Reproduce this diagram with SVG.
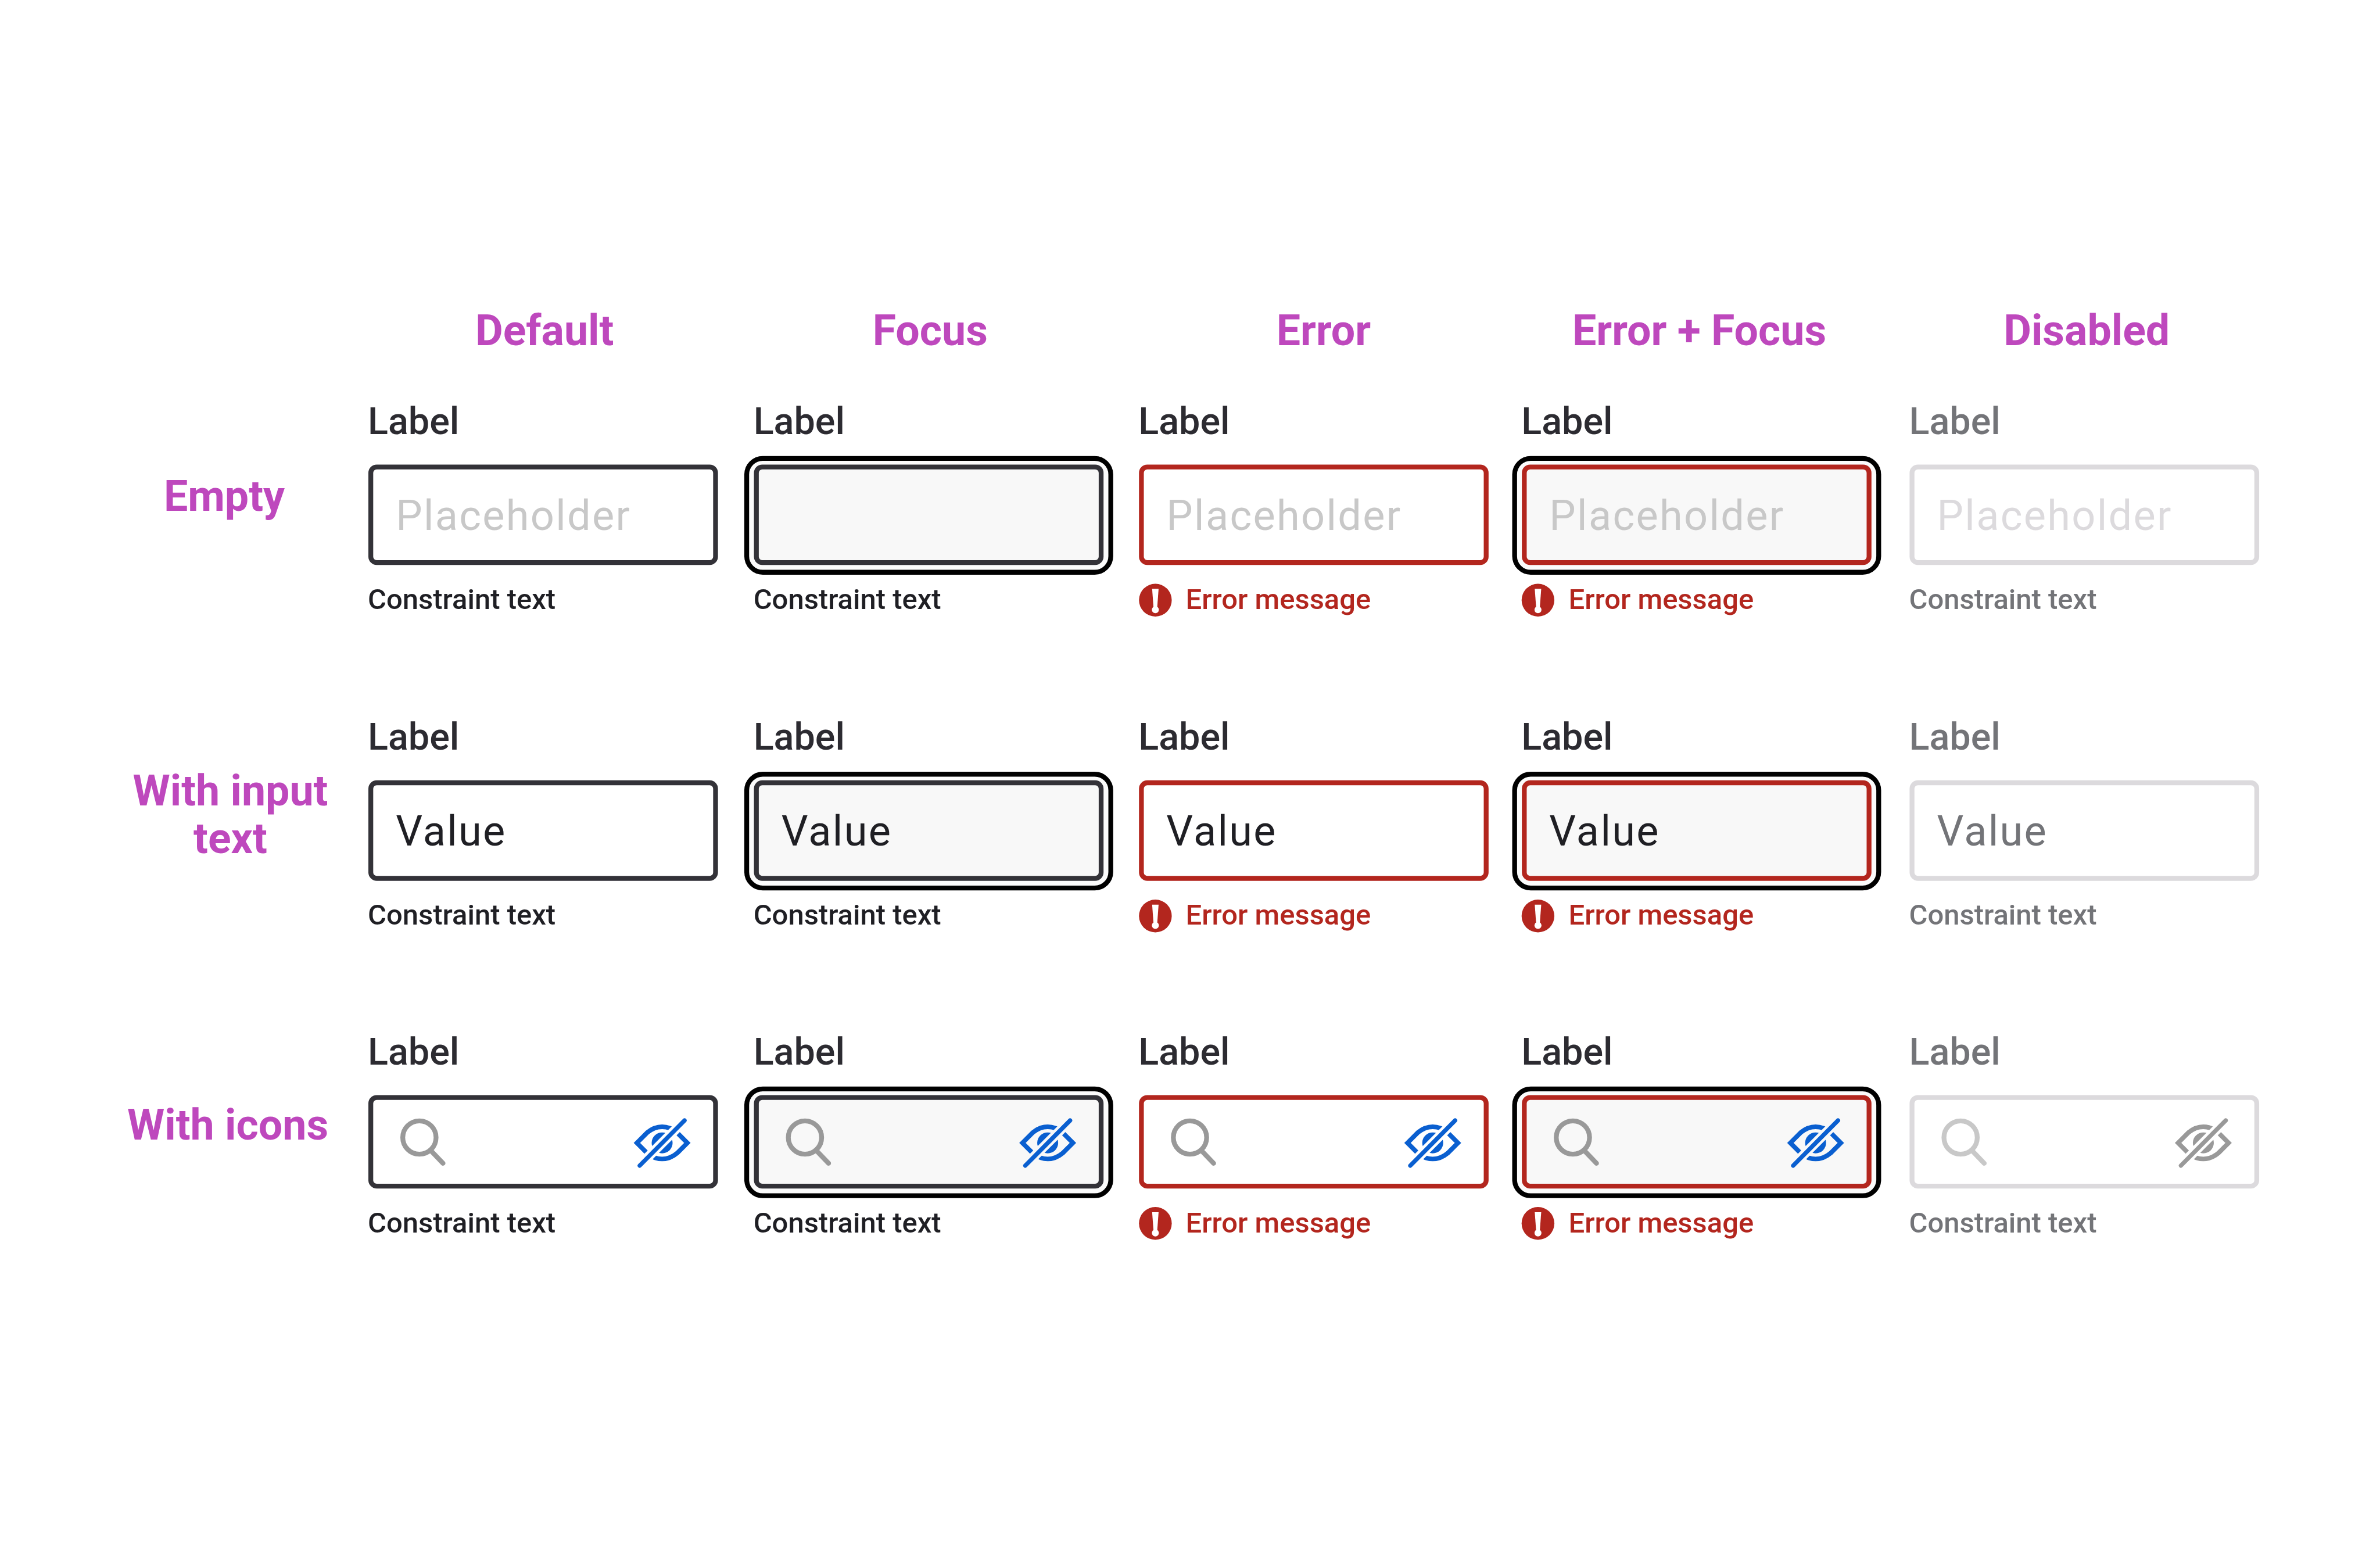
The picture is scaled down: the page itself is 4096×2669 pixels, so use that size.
<svg xmlns="http://www.w3.org/2000/svg" xmlns:xlink="http://www.w3.org/1999/xlink" width="4096" height="2669" viewBox="0 0 4096 2669">
<style>
text{font-family:Roboto,"Liberation Sans",sans-serif}
.h{font-size:79.5px;font-weight:700;fill:#be48bd}
.r{font-size:79.5px;font-weight:700;fill:#be48bd;text-anchor:middle}
.l{font-size:70px;font-weight:500;fill:#2c2b31}
.c{font-size:53px;font-weight:500;fill:#1f1f24}
.e{font-size:53px;font-weight:500;fill:#b3261e}
.p{font-size:78px;fill:#c8c8c8;letter-spacing:2.5px}
.v{font-size:78px;fill:#1f1f24;letter-spacing:2.5px}
.dl{fill:#737478}
.dv{fill:#737478}
.dp{fill:#dcdadd}
.b{fill:#fff;stroke:#333238;stroke-width:9}
.bf{fill:#f8f8f8;stroke:#333238;stroke-width:9}
.be{fill:#fff;stroke:#b3261e;stroke-width:9}
.bef{fill:#f8f8f8;stroke:#b3261e;stroke-width:9}
.bd{fill:#fff;stroke:#dcdadd;stroke-width:9}
.ring{fill:#fbfbfb;stroke:#000;stroke-width:9}
.s{color:#999}
.sd{color:#c8c8c8}
.i{color:#0a5fd0}
.id{color:#999}
</style>
<defs>
<mask id="cut" maskUnits="userSpaceOnUse" x="-60" y="-60" width="120" height="120">
<rect x="-60" y="-60" width="120" height="120" fill="#fff"/>
<path d="M-48 48L48 -48" stroke="#000" stroke-width="18"/>
</mask>
<g id="search" fill="none" stroke="currentColor" stroke-width="9" stroke-linecap="round">
<circle r="31"/><path d="M22 25L44 48"/>
</g>
<g id="eye">
<g mask="url(#cut)">
<path d="M-47 0L-28 -19Q-15 -30 0 -30Q15 -30 28 -19L47 0L28 19Q15 30 0 30Q-15 30 -28 19Z" fill="none" stroke="currentColor" stroke-width="8.5"/>
<circle r="19.5" fill="currentColor"/>
</g>
<path d="M-41.7 42.3L41.7 -41.7" stroke="currentColor" stroke-width="8" stroke-linecap="round"/>
</g>
<g id="err">
<circle r="30.5" fill="#b3261e"/>
<path d="M-6 -21H6L3.5 13H-3.5Z" fill="#fff"/>
<circle cy="17.7" r="6.5" fill="#fff"/>
</g>
</defs>
<rect width="4096" height="2669" fill="#fff"/>
<g transform="scale(0.92419)">
<g id="headers">
<text class="h" x="885" y="643">Default</text>
<text class="h" x="1625" y="643">Focus</text>
<text class="h" x="2377" y="643">Error</text>
<text class="h" x="2928" y="643">Error + Focus</text>
<text class="h" x="3731" y="643">Disabled</text>
</g>
<g id="rows">
<text class="h" x="305" y="951">Empty</text>
<text class="r" x="429" y="1500">With input</text>
<text class="r" x="429" y="1588">text</text>
<text class="h" x="237" y="2122">With icons</text>
</g>

<g id="empty-default">
<text class="l" x="685" y="808">Label</text>
<rect class="b" x="690.5" y="869.5" width="642" height="178" rx="11"/>
<text class="p" x="737" y="987">Placeholder</text>
<text class="c" x="685" y="1134">Constraint text</text>
</g>
<g id="empty-focus">
<text class="l" x="1403" y="808">Label</text>
<rect class="ring" x="1390.5" y="853.5" width="678" height="212" rx="30"/>
<rect class="bf" x="1408.5" y="869.5" width="642" height="178" rx="11"/>
<text class="c" x="1403" y="1134">Constraint text</text>
</g>
<g id="empty-error">
<text class="l" x="2120" y="808">Label</text>
<rect class="be" x="2125.5" y="869.5" width="642" height="178" rx="11"/>
<text class="p" x="2172" y="987">Placeholder</text>
<use href="#err" x="2151.5" y="1117.5"/>
<text class="e" x="2208" y="1134">Error message</text>
</g>
<g id="empty-error-focus">
<text class="l" x="2833" y="808">Label</text>
<rect class="ring" x="2820.5" y="853.5" width="678" height="212" rx="30"/>
<rect class="bef" x="2838.5" y="869.5" width="642" height="178" rx="11"/>
<text class="p" x="2885" y="987">Placeholder</text>
<use href="#err" x="2864" y="1117.5"/>
<text class="e" x="2921" y="1134">Error message</text>
</g>
<g id="empty-disabled">
<text class="l dl" x="3555" y="808">Label</text>
<rect class="bd" x="3560.5" y="869.5" width="642" height="178" rx="11"/>
<text class="p dp" x="3607" y="987">Placeholder</text>
<text class="c dl" x="3555" y="1134">Constraint text</text>
</g>

<g id="input-default">
<text class="l" x="685" y="1396">Label</text>
<rect class="b" x="690.5" y="1457.5" width="642" height="178" rx="11"/>
<text class="v" x="737" y="1574">Value</text>
<text class="c" x="685" y="1722">Constraint text</text>
</g>
<g id="input-focus">
<text class="l" x="1403" y="1396">Label</text>
<rect class="ring" x="1390.5" y="1441.5" width="678" height="212" rx="30"/>
<rect class="bf" x="1408.5" y="1457.5" width="642" height="178" rx="11"/>
<text class="v" x="1455" y="1574">Value</text>
<text class="c" x="1403" y="1722">Constraint text</text>
</g>
<g id="input-error">
<text class="l" x="2120" y="1396">Label</text>
<rect class="be" x="2125.5" y="1457.5" width="642" height="178" rx="11"/>
<text class="v" x="2172" y="1574">Value</text>
<use href="#err" x="2151.5" y="1705.5"/>
<text class="e" x="2208" y="1722">Error message</text>
</g>
<g id="input-error-focus">
<text class="l" x="2833" y="1396">Label</text>
<rect class="ring" x="2820.5" y="1441.5" width="678" height="212" rx="30"/>
<rect class="bef" x="2838.5" y="1457.5" width="642" height="178" rx="11"/>
<text class="v" x="2885" y="1574">Value</text>
<use href="#err" x="2864" y="1705.5"/>
<text class="e" x="2921" y="1722">Error message</text>
</g>
<g id="input-disabled">
<text class="l dl" x="3555" y="1396">Label</text>
<rect class="bd" x="3560.5" y="1457.5" width="642" height="178" rx="11"/>
<text class="v dv" x="3607" y="1574">Value</text>
<text class="c dl" x="3555" y="1722">Constraint text</text>
</g>

<g id="icons-default">
<text class="l" x="685" y="1982">Label</text>
<rect class="b" x="690.5" y="2043.5" width="642" height="165" rx="11"/>
<use class="s" href="#search" x="781" y="2118"/>
<use class="i" href="#eye" x="1233" y="2128"/>
<text class="c" x="685" y="2295">Constraint text</text>
</g>
<g id="icons-focus">
<text class="l" x="1403" y="1982">Label</text>
<rect class="ring" x="1390.5" y="2027.5" width="678" height="199" rx="30"/>
<rect class="bf" x="1408.5" y="2043.5" width="642" height="165" rx="11"/>
<use class="s" href="#search" x="1499" y="2118"/>
<use class="i" href="#eye" x="1951" y="2128"/>
<text class="c" x="1403" y="2295">Constraint text</text>
</g>
<g id="icons-error">
<text class="l" x="2120" y="1982">Label</text>
<rect class="be" x="2125.5" y="2043.5" width="642" height="165" rx="11"/>
<use class="s" href="#search" x="2216" y="2118"/>
<use class="i" href="#eye" x="2668" y="2128"/>
<use href="#err" x="2151.5" y="2278"/>
<text class="e" x="2208" y="2295">Error message</text>
</g>
<g id="icons-error-focus">
<text class="l" x="2833" y="1982">Label</text>
<rect class="ring" x="2820.5" y="2027.5" width="678" height="199" rx="30"/>
<rect class="bef" x="2838.5" y="2043.5" width="642" height="165" rx="11"/>
<use class="s" href="#search" x="2929" y="2118"/>
<use class="i" href="#eye" x="3381" y="2128"/>
<use href="#err" x="2864" y="2278"/>
<text class="e" x="2921" y="2295">Error message</text>
</g>
<g id="icons-disabled">
<text class="l dl" x="3555" y="1982">Label</text>
<rect class="bd" x="3560.5" y="2043.5" width="642" height="165" rx="11"/>
<use class="sd" href="#search" x="3651" y="2118"/>
<use class="id" href="#eye" x="4103" y="2128"/>
<text class="c dl" x="3555" y="2295">Constraint text</text>
</g>
</g>
</svg>
